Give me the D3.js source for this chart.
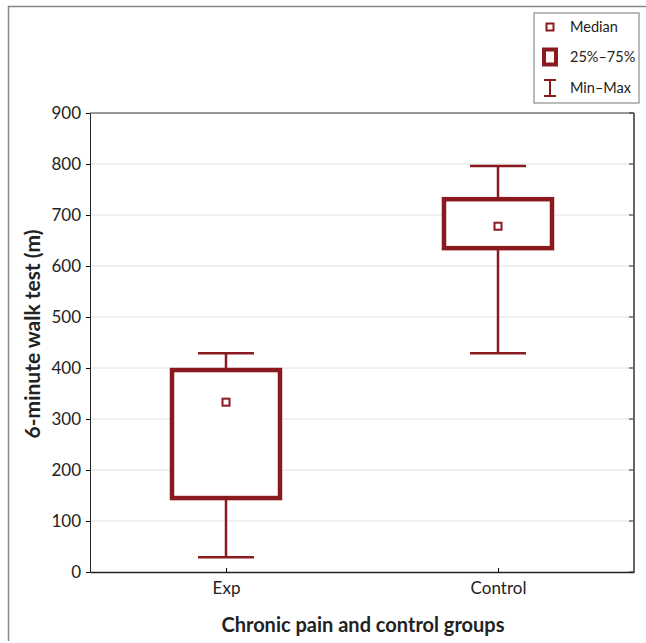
<!DOCTYPE html>
<html>
<head>
<meta charset="utf-8">
<script src="https://cdn.jsdelivr.net/npm/d3@7"></script>
<style>
  body { margin: 0; background: #fff; }
  text { font-family: Lato, "Open Sans", sans-serif; fill: #222; }
</style>
</head>
<body>
<div id="chart"></div>
<script>
// data
const groups = ["Exp", "Control"];
const mins = [29, 429];
const q1s = [145, 635];
const medians = [333, 678];
const q3s = [396, 731];
const maxs = [429, 796];
const yTicks = [0, 100, 200, 300, 400, 500, 600, 700, 800, 900];
const legendLabels = ["Median", "25%–75%", "Min–Max"];

const W = 646, H = 643;
const margins = {l: 90, r: 12, t: 113, b: 71};
const color = "#8b1a1f";

const svg = d3.select("#chart").append("svg")
  .attr("width", W).attr("height", H);

// outer frame (top + left)
svg.append("line").attr("x1", 8).attr("x2", W).attr("y1", 6.5).attr("y2", 6.5)
   .attr("stroke", "#888").attr("stroke-width", 1.5);
svg.append("line").attr("x1", 8.5).attr("x2", 8.5).attr("y1", 6).attr("y2", 641)
   .attr("stroke", "#888").attr("stroke-width", 1.5);

const width = W - margins.l - margins.r;
const height = H - margins.t - margins.b;

const xScale = d3.scalePoint().domain(groups).range([0, width]).padding(0.5);
const yScale = d3.scaleLinear().domain([0, 900]).range([height, 0]);

const g = svg.append("g").attr("transform", `translate(${margins.l}, ${margins.t})`);

// gridlines
g.selectAll("line.grid").data(yTicks.slice(1, -1)).enter().append("line")
  .attr("class", "grid")
  .attr("x1", 0).attr("x2", width)
  .attr("y1", d => yScale(d)).attr("y2", d => yScale(d))
  .attr("stroke", "#e0e0e0").attr("stroke-width", 1);

// right-side inner ticks
g.selectAll("line.rtick").data(yTicks).enter().append("line")
  .attr("x1", width - 5).attr("x2", width)
  .attr("y1", d => yScale(d)).attr("y2", d => yScale(d))
  .attr("stroke", "#333");

// plot frame
g.append("line").attr("x1", width).attr("x2", width).attr("y1", 0).attr("y2", height)
  .attr("stroke", "#666").attr("stroke-width", 2);
g.append("line").attr("x1", 0).attr("x2", width).attr("y1", 0).attr("y2", 0)
  .attr("stroke", "#333").attr("stroke-width", 1);

// axes
const yAxis = g.append("g")
  .call(d3.axisLeft(yScale).tickValues(yTicks).tickSize(4).tickSizeOuter(0).tickPadding(5));
yAxis.select(".domain").attr("stroke", "#222");
yAxis.selectAll("text").attr("font-size", 17);

const xAxis = g.append("g").attr("transform", `translate(0, ${height})`)
  .call(d3.axisBottom(xScale).tickSize(-4).tickSizeOuter(0).tickPadding(10));
xAxis.select(".domain").attr("stroke", "#222").attr("stroke-width", 1.5);
xAxis.selectAll("text").attr("font-size", 17);

// axis titles
svg.append("text")
  .attr("transform", `translate(40, 334) rotate(-90)`)
  .attr("text-anchor", "middle")
  .attr("font-size", 21).attr("font-weight", "bold")
  .text("6-minute walk test (m)");
svg.append("text")
  .attr("x", 363).attr("y", 632)
  .attr("text-anchor", "middle")
  .attr("font-size", 20).attr("font-weight", "bold")
  .text("Chronic pain and control groups");

// boxes
const boxW = 108, capW = 56;
const items = g.selectAll("g.box").data(groups).enter().append("g")
  .attr("class", "box")
  .attr("transform", d => `translate(${xScale(d)}, 0)`);

items.append("line") // whisker
  .attr("x1", 0).attr("x2", 0)
  .attr("y1", (d, i) => yScale(mins[i])).attr("y2", (d, i) => yScale(maxs[i]))
  .attr("stroke", color).attr("stroke-width", 2.5);
items.append("line")
  .attr("x1", -capW / 2).attr("x2", capW / 2)
  .attr("y1", (d, i) => yScale(mins[i])).attr("y2", (d, i) => yScale(mins[i]))
  .attr("stroke", color).attr("stroke-width", 2.5);
items.append("line")
  .attr("x1", -capW / 2).attr("x2", capW / 2)
  .attr("y1", (d, i) => yScale(maxs[i])).attr("y2", (d, i) => yScale(maxs[i]))
  .attr("stroke", color).attr("stroke-width", 2.5);
items.append("rect")
  .attr("x", -boxW / 2).attr("width", boxW)
  .attr("y", (d, i) => yScale(q3s[i]))
  .attr("height", (d, i) => yScale(q1s[i]) - yScale(q3s[i]))
  .attr("fill", "#fff").attr("stroke", color).attr("stroke-width", 4.5);
items.append("rect")
  .attr("x", -3.5).attr("width", 7)
  .attr("y", (d, i) => yScale(medians[i]) - 3.5).attr("height", 7)
  .attr("fill", "#fff").attr("stroke", color).attr("stroke-width", 2);

// legend
const lg = svg.append("g").attr("transform", "translate(534, 13)");
lg.append("rect").attr("width", 105).attr("height", 90)
  .attr("fill", "#fff").attr("stroke", "#777").attr("stroke-width", 1);
const rows = [14, 44, 75];
lg.append("rect").attr("x", 12.5).attr("y", rows[0] - 3.5).attr("width", 7).attr("height", 7)
  .attr("fill", "#fff").attr("stroke", color).attr("stroke-width", 2);
lg.append("rect").attr("x", 10).attr("y", rows[1] - 7.5).attr("width", 12).attr("height", 15)
  .attr("fill", "#fffaf5").attr("stroke", color).attr("stroke-width", 4);
lg.append("line").attr("x1", 16).attr("x2", 16).attr("y1", rows[2] - 8).attr("y2", rows[2] + 8)
  .attr("stroke", color).attr("stroke-width", 2);
lg.append("line").attr("x1", 10).attr("x2", 22).attr("y1", rows[2] - 8).attr("y2", rows[2] - 8)
  .attr("stroke", color).attr("stroke-width", 2);
lg.append("line").attr("x1", 10).attr("x2", 22).attr("y1", rows[2] + 8).attr("y2", rows[2] + 8)
  .attr("stroke", color).attr("stroke-width", 2);
lg.selectAll("text.lab").data(legendLabels).enter().append("text")
  .attr("x", 36).attr("y", (d, i) => rows[i])
  .attr("dy", "0.35em").attr("font-size", 14.5)
  .text(d => d);
</script>
</body>
</html>
